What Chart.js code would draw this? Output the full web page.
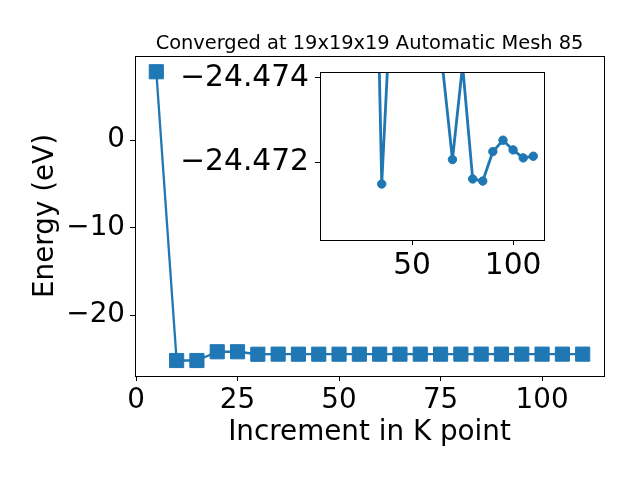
<!DOCTYPE html>
<html lang="en">
  <head>
    <meta charset="UTF-8" />
    <title>K point convergence</title>
    <style>
      body {
        margin: 0;
        background-color: #ffffff;
      }

      #wrap {
        position: relative;
        width: 640px;
        height: 480px;
      }

      #mainChart {
        position: absolute;
        left: 0;
        top: 0;
      }

      #insetChart {
        position: absolute;
        left: 170px;
        top: 40px;
      }
    </style>
  </head>
  <body>
    <div id="wrap">
      <canvas id="mainChart" width="640" height="480"></canvas>
      <canvas id="insetChart" width="390" height="260"></canvas>
    </div>

    <script src="https://cdn.jsdelivr.net/npm/chart.js@4.4.0/dist/chart.umd.min.js"></script>
    <script>
      // main plot data
      const kPoints = [5, 10, 15, 20, 25, 30, 35, 40, 45, 50, 55, 60, 65, 70, 75, 80, 85, 90, 95, 100, 105, 110];
      const energy = [7.8, -25.2, -25.2, -24.2, -24.2, -24.4827, -24.47148, -24.4763, -24.477, -24.4768, -24.4762,
        -24.4755, -24.4743, -24.47206, -24.4743, -24.4716, -24.47155, -24.47225, -24.47252, -24.47229, -24.4721, -24.47214];

      // inset (zoomed) data
      const insetK = [30, 35, 40, 45, 50, 55, 60, 65, 70, 75, 80, 85, 90, 95, 100, 105, 110];
      const insetEnergy = [-24.4827, -24.47148, -24.4763, -24.477, -24.4768, -24.4762, -24.4755, -24.4743, -24.47206,
        -24.4743, -24.4716, -24.47155, -24.47225, -24.47252, -24.47229, -24.4721, -24.47214];

      // tick labels
      const xTicks = [0, 25, 50, 75, 100];
      const yTicks = [0, -10, -20];
      const insetXTicks = [50, 100];
      const insetYTicks = [-24.474, -24.472];

      const titleText = "Converged at 19x19x19 Automatic Mesh 85";
      const blue = "#1f77b4";
      const font = "'DejaVu Sans', sans-serif";

      function minusSign(v, digits) {
        const s = digits ? Math.abs(v).toFixed(digits) : String(Math.abs(v));
        return v < 0 ? "\u2212" + s : s;
      }

      // draws the box around the plot area (and white face for the inset)
      const framePlugin = {
        id: "frame",
        beforeDraw(chart, args, opts) {
          const a = chart.chartArea;
          const ctx = chart.ctx;
          if (opts.fill) {
            ctx.save();
            ctx.fillStyle = "#ffffff";
            ctx.fillRect(a.left, a.top, a.right - a.left, a.bottom - a.top);
            ctx.restore();
          }
        },
        afterDraw(chart, args, opts) {
          const a = chart.chartArea;
          const ctx = chart.ctx;
          ctx.save();
          ctx.strokeStyle = "#000000";
          ctx.lineWidth = 1;
          ctx.strokeRect(Math.round(a.left) + 0.5, Math.round(a.top) + 0.5,
            Math.round(a.right - a.left), Math.round(a.bottom - a.top));
          if (opts.title) {
            ctx.fillStyle = "#000000";
            ctx.font = "19.4px " + font;
            ctx.textAlign = "center";
            ctx.textBaseline = "alphabetic";
            ctx.fillText(opts.title, (a.left + a.right) / 2, 49);
          }
          ctx.restore();
        },
      };

      function tickGrid() {
        return {
          display: true,
          drawOnChartArea: false,
          drawTicks: true,
          tickLength: 5,
          color: "#000000",
          lineWidth: 1,
        };
      }

      // main chart
      new Chart(document.getElementById("mainChart"), {
        type: "line",
        data: {
          datasets: [
            {
              data: kPoints.map((k, i) => ({ x: k, y: energy[i] })),
              borderColor: blue,
              backgroundColor: blue,
              borderWidth: 2.3,
              borderJoinStyle: "round",
              pointStyle: "rect",
              pointRadius: 10,
              pointBorderWidth: 1,
              tension: 0,
            },
          ],
        },
        plugins: [framePlugin],
        options: {
          responsive: false,
          animation: false,
          devicePixelRatio: 1,
          layout: { padding: { left: 0, right: 36, top: 56, bottom: 0 } },
          plugins: {
            legend: { display: false },
            tooltip: { enabled: false },
            frame: { title: titleText, fill: false },
          },
          scales: {
            x: {
              type: "linear",
              min: -0.25,
              max: 115.25,
              afterBuildTicks: (s) => { s.ticks = xTicks.map((v) => ({ value: v })); },
              afterFit: (s) => { s.height = 104; },
              grid: tickGrid(),
              border: { display: false },
              ticks: { color: "#000", font: { family: font, size: 27.8 }, padding: 3, maxRotation: 0 },
              title: {
                display: true,
                text: "Increment in K point",
                color: "#000",
                font: { family: font, size: 27.8 },
                padding: { top: 0, bottom: 31 },
              },
            },
            y: {
              type: "linear",
              min: -26.97,
              max: 9.6,
              afterBuildTicks: (s) => { s.ticks = yTicks.map((v) => ({ value: v })); },
              afterFit: (s) => { s.width = 135; },
              grid: tickGrid(),
              border: { display: false },
              ticks: {
                color: "#000",
                font: { family: font, size: 27.8 },
                padding: 5,
                callback: (v) => minusSign(v),
              },
              title: {
                display: true,
                text: "Energy (eV)",
                color: "#000",
                font: { family: font, size: 27.8 },
                padding: { top: 29, bottom: 0 },
              },
            },
          },
        },
      });

      // inset chart
      new Chart(document.getElementById("insetChart"), {
        type: "line",
        data: {
          datasets: [
            {
              data: insetK.map((k, i) => ({ x: k, y: insetEnergy[i] })),
              borderColor: blue,
              backgroundColor: blue,
              borderWidth: 2.8,
              borderJoinStyle: "round",
              pointStyle: "circle",
              pointRadius: 4.2,
              pointBorderWidth: 1,
              tension: 0,
            },
          ],
        },
        plugins: [framePlugin],
        options: {
          responsive: false,
          animation: false,
          devicePixelRatio: 1,
          layout: { padding: { left: 0, right: 16, top: 32, bottom: 0 } },
          plugins: {
            legend: { display: false },
            tooltip: { enabled: false },
            frame: { fill: true },
          },
          scales: {
            x: {
              type: "linear",
              min: 4.45,
              max: 115.3,
              afterBuildTicks: (s) => { s.ticks = insetXTicks.map((v) => ({ value: v })); },
              afterFit: (s) => { s.height = 60; },
              grid: tickGrid(),
              border: { display: false },
              ticks: { color: "#000", font: { family: font, size: 29.7 }, padding: 3, maxRotation: 0 },
            },
            y: {
              type: "linear",
              reverse: true,
              min: -24.47414,
              max: -24.47015,
              afterBuildTicks: (s) => { s.ticks = insetYTicks.map((v) => ({ value: v })); },
              afterFit: (s) => { s.width = 150; },
              grid: tickGrid(),
              border: { display: false },
              ticks: {
                color: "#000",
                font: { family: font, size: 29.7 },
                padding: 6,
                callback: (v) => minusSign(v, 3),
              },
            },
          },
        },
      });
    </script>
  </body>
</html>
